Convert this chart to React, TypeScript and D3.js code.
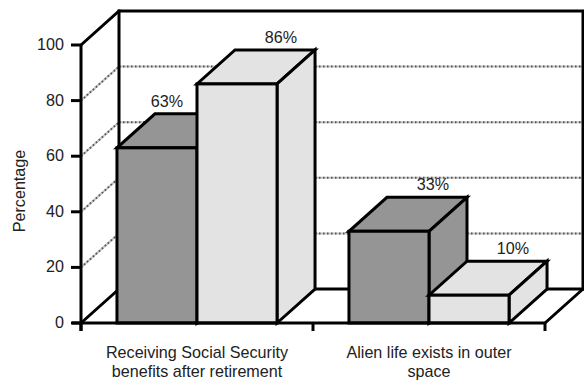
import React from "react";
import * as d3 from "d3";

const categories = [
  ["Receiving Social Security", "benefits after retirement"],
  ["Alien life exists in outer", "space"],
];
const seriesNames = ["Series A", "Series B"];
const seriesColors = ["#959595", "#e3e3e3"];
// values[category][series], in percent
const values = [
  [63, 86],
  [33, 10],
];
const yTicks = [0, 20, 40, 60, 80, 100];

const W = 584;
const H = 381;
const DX = 38; // oblique depth offset
const DY = -34;
const FONT = "'Liberation Sans', Arial, sans-serif";
const FS = 17;
const SX = 0.95; // slight horizontal squeeze for a narrow face

const y = d3.scaleLinear().domain([0, 100]).range([323, 45]);
const x0 = d3
  .scaleBand<number>()
  .domain(categories.map((_, i) => i))
  .range([81, 545])
  .paddingInner(0.31)
  .paddingOuter(0.155);
const x1 = d3
  .scaleBand<number>()
  .domain(seriesNames.map((_, i) => i))
  .range([0, x0.bandwidth()]);

const pts = (p: [number, number][]) => p.map((q) => q.join(",")).join(" ");

function Txt({
  x,
  y: ty,
  anchor = "middle",
  rotate = 0,
  children,
}: {
  x: number;
  y: number;
  anchor?: string;
  rotate?: number;
  children: React.ReactNode;
}) {
  return (
    <g transform={`translate(${x},${ty}) rotate(${rotate}) scale(${SX},1)`}>
      <text textAnchor={anchor} fontFamily={FONT} fontSize={FS} fill="#222">
        {children}
      </text>
    </g>
  );
}

function Dotted({ x1: a, y1: b, x2: c, y2: d }: { x1: number; y1: number; x2: number; y2: number }) {
  return (
    <g>
      <line x1={a} y1={b} x2={c} y2={d} stroke="#c4c4c4" strokeWidth={2} />
      <line x1={a} y1={b} x2={c} y2={d} stroke="#555" strokeWidth={2} strokeDasharray="1.5 2.5" />
    </g>
  );
}

export default function App() {
  const [xl, xr] = x0.range();
  const y0 = y(0);
  const yTop = y(100);
  const bk = "#000";
  const sw = 3;

  const bars: React.ReactNode[] = [];
  const labels: React.ReactNode[] = [];
  values.forEach((row, ci) => {
    row.forEach((v, si) => {
      const a = (x0(ci) ?? 0) + (x1(si) ?? 0);
      const b = a + x1.bandwidth();
      const t = y(v);
      const fill = seriesColors[si];
      bars.push(
        <g key={`b${ci}-${si}`} stroke={bk} strokeWidth={sw} strokeLinejoin="miter" fill={fill}>
          <polygon points={pts([[a, t], [b, t], [b + DX, t + DY], [a + DX, t + DY]])} />
          <polygon points={pts([[b, t], [b + DX, t + DY], [b + DX, y0 + DY], [b, y0]])} />
          <rect x={a} y={t} width={b - a} height={y0 - t} />
        </g>
      );
      // label sits above the top face; if the neighbour to the right is taller,
      // it is pulled back in front of that neighbour's face
      const next = row[si + 1];
      const ly = t + DY - 7;
      if (next !== undefined && y(next) < ly) {
        labels.push(
          <Txt key={`l${ci}-${si}`} x={b - 14} y={ly} anchor="end">
            {v}%
          </Txt>
        );
      } else {
        labels.push(
          <Txt key={`l${ci}-${si}`} x={(a + b) / 2 + DX + 6} y={ly}>
            {v}%
          </Txt>
        );
      }
    });
  });

  return (
    <svg
      width={W}
      height={H}
      style={{ position: "absolute", left: 0, top: 0, background: "#fff" }}
    >
      {/* gridlines on back wall and left side wall */}
      {yTicks
        .filter((t) => t > 0 && t < 100)
        .map((t) => (
          <g key={`g${t}`}>
            <Dotted x1={xl} y1={y(t)} x2={xl + DX} y2={y(t) + DY} />
            <Dotted x1={xl + DX} y1={y(t) + DY} x2={xr + DX} y2={y(t) + DY} />
          </g>
        ))}
      {/* walls and floor outlines */}
      <g stroke={bk} strokeWidth={sw} fill="none" strokeLinecap="square">
        <polyline points={pts([[xl, yTop], [xl + DX, yTop + DY], [xr + DX, yTop + DY], [xr + DX, y0 + DY]])} />
        <line x1={xl + DX} y1={yTop + DY} x2={xl + DX} y2={y0 + DY} />
        <line x1={xl + DX} y1={y0 + DY} x2={xr + DX} y2={y0 + DY} />
        <line x1={xl} y1={y0} x2={xl + DX} y2={y0 + DY} />
        <line x1={xr} y1={y0} x2={xr + DX} y2={y0 + DY} />
      </g>
      {bars}
      {/* front axes */}
      <g stroke={bk} strokeWidth={sw}>
        <line x1={xl} y1={yTop} x2={xl} y2={y0 + 8} />
        <line x1={xl - 9} y1={y0} x2={xr} y2={y0} />
        {yTicks.map((t) => (
          <line key={`t${t}`} x1={xl - 10} y1={y(t)} x2={xl} y2={y(t)} />
        ))}
        {[xl, ...categories.map((_, i) => (x0(i) ?? 0) + x0.bandwidth() + (x0.step() - x0.bandwidth()) / 2)].map(
          (tx, i) => (
            <line key={`xt${i}`} x1={tx} y1={y0} x2={tx} y2={y0 + 8} />
          )
        )}
      </g>
      {yTicks.map((t) => (
        <Txt key={`yl${t}`} x={xl - 17} y={y(t) + 5} anchor="end">
          {t}
        </Txt>
      ))}
      {labels}
      {categories.map((lines, i) => {
        const cx = (x0(i) ?? 0) + x0.bandwidth() / 2;
        return lines.map((ln, j) => (
          <Txt key={`c${i}-${j}`} x={cx} y={358 + j * 19}>
            {ln}
          </Txt>
        ));
      })}
      <Txt x={25} y={191} rotate={-90}>
        Percentage
      </Txt>
    </svg>
  );
}
